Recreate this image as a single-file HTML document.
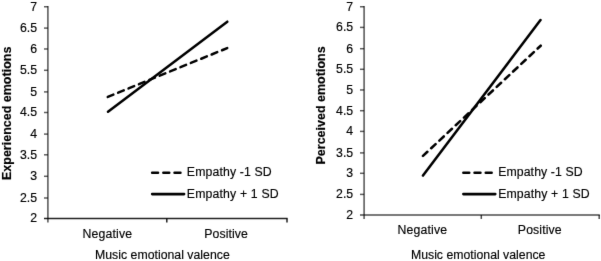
<!DOCTYPE html>
<html><head><meta charset="utf-8"><style>
html,body{margin:0;padding:0;background:#fff;}
svg{display:block;}
.t{font-family:"Liberation Sans",sans-serif;font-size:12.3px;fill:#000;stroke:#000;stroke-width:0.15px;}
.tb{font-family:"Liberation Sans",sans-serif;font-size:12.5px;font-weight:bold;fill:#000;stroke:#000;stroke-width:0.15px;}
</style></head><body>
<svg width="601" height="261" viewBox="0 0 601 261">
<defs><filter id="bl" color-interpolation-filters="sRGB" x="0" y="0" width="601" height="261" filterUnits="userSpaceOnUse"><feConvolveMatrix order="3" kernelMatrix="0.00524 0.06192 0.00524 0.06192 0.73137 0.06192 0.00524 0.06192 0.00524" preserveAlpha="true" edgeMode="duplicate"/></filter></defs>
<rect width="601" height="261" fill="#fff"/>
<g filter="url(#bl)">
<rect width="601" height="261" fill="#fff"/>
<line x1="44.0" y1="6.75" x2="47.9" y2="6.75" stroke="#000" stroke-opacity="0.64" stroke-width="1.5"/>
<text transform="translate(37.00 10.65) scale(1 1.06)" text-anchor="end" class="t">7</text>
<line x1="44.0" y1="28.10" x2="47.9" y2="28.10" stroke="#000" stroke-opacity="0.64" stroke-width="1.5"/>
<text transform="translate(37.00 32.00) scale(1 1.06)" text-anchor="end" class="t">6.5</text>
<line x1="44.0" y1="48.97" x2="47.9" y2="48.97" stroke="#000" stroke-opacity="0.64" stroke-width="1.5"/>
<text transform="translate(37.00 52.87) scale(1 1.06)" text-anchor="end" class="t">6</text>
<line x1="44.0" y1="70.30" x2="47.9" y2="70.30" stroke="#000" stroke-opacity="0.64" stroke-width="1.5"/>
<text transform="translate(37.00 74.20) scale(1 1.06)" text-anchor="end" class="t">5.5</text>
<line x1="44.0" y1="91.90" x2="47.9" y2="91.90" stroke="#000" stroke-opacity="0.64" stroke-width="1.5"/>
<text transform="translate(37.00 95.80) scale(1 1.06)" text-anchor="end" class="t">5</text>
<line x1="44.0" y1="112.50" x2="47.9" y2="112.50" stroke="#000" stroke-opacity="0.64" stroke-width="1.5"/>
<text transform="translate(37.00 116.40) scale(1 1.06)" text-anchor="end" class="t">4.5</text>
<line x1="44.0" y1="134.10" x2="47.9" y2="134.10" stroke="#000" stroke-opacity="0.64" stroke-width="1.5"/>
<text transform="translate(37.00 138.00) scale(1 1.06)" text-anchor="end" class="t">4</text>
<line x1="44.0" y1="154.80" x2="47.9" y2="154.80" stroke="#000" stroke-opacity="0.64" stroke-width="1.5"/>
<text transform="translate(37.00 158.70) scale(1 1.06)" text-anchor="end" class="t">3.5</text>
<line x1="44.0" y1="176.30" x2="47.9" y2="176.30" stroke="#000" stroke-opacity="0.64" stroke-width="1.5"/>
<text transform="translate(37.00 180.20) scale(1 1.06)" text-anchor="end" class="t">3</text>
<line x1="44.0" y1="198.00" x2="47.9" y2="198.00" stroke="#000" stroke-opacity="0.64" stroke-width="1.5"/>
<text transform="translate(37.00 201.90) scale(1 1.06)" text-anchor="end" class="t">2.5</text>
<text transform="translate(37.00 222.40) scale(1 1.06)" text-anchor="end" class="t">2</text>
<line x1="47.9" y1="6.0" x2="47.9" y2="222.5" stroke="#000" stroke-opacity="0.64" stroke-width="1.6"/>
<line x1="44.0" y1="218.5" x2="287.6" y2="218.5" stroke="#000" stroke-opacity="0.87" stroke-width="1.5"/>
<line x1="166.8" y1="218.5" x2="166.8" y2="222.5" stroke="#000" stroke-opacity="0.87" stroke-width="1.5"/>
<line x1="287.0" y1="218.5" x2="287.0" y2="222.5" stroke="#000" stroke-opacity="0.87" stroke-width="1.5"/>
<line x1="108.0" y1="111.65" x2="227.3" y2="21.7" stroke="#000" stroke-width="2.55" stroke-linecap="round"/>
<line x1="107.8" y1="96.9" x2="227.2" y2="48.1" stroke="#000" stroke-width="2.55" stroke-linecap="round" stroke-dasharray="6 5.22"/>
<text transform="translate(107.30 237.60) scale(1 1.06)" text-anchor="middle" textLength="49.44" lengthAdjust="spacing" class="t">Negative</text>
<text transform="translate(226.10 237.60) scale(1 1.06)" text-anchor="middle" textLength="43.60" lengthAdjust="spacing" class="t">Positive</text>
<text transform="translate(95.04 259.30) scale(1 1.06)" textLength="134.70" lengthAdjust="spacing" class="t">Music emotional valence</text>
<text x="10.7" y="180.0" transform="rotate(-90 10.7 180.0)" class="tb">Experienced emotions</text>
<line x1="152.15" y1="172.8" x2="180.45" y2="172.8" stroke="#000" stroke-width="2.55" stroke-linecap="round" stroke-dasharray="5.9 5.3"/>
<line x1="152.15" y1="194.1" x2="184.10" y2="194.1" stroke="#000" stroke-width="2.55" stroke-linecap="round"/>
<text transform="translate(186.85 175.60) scale(1 1.06)" textLength="84.77" lengthAdjust="spacing" class="t">Empathy -1 SD</text>
<text transform="translate(186.85 197.60) scale(1 1.06)" textLength="91.80" lengthAdjust="spacing" class="t">Empathy + 1 SD</text>
<line x1="360.0" y1="6.74" x2="364.1" y2="6.74" stroke="#000" stroke-opacity="0.64" stroke-width="1.5"/>
<text transform="translate(353.20 10.64) scale(1 1.06)" text-anchor="end" class="t">7</text>
<line x1="360.0" y1="27.40" x2="364.1" y2="27.40" stroke="#000" stroke-opacity="0.64" stroke-width="1.5"/>
<text transform="translate(353.20 31.30) scale(1 1.06)" text-anchor="end" class="t">6.5</text>
<line x1="360.0" y1="48.70" x2="364.1" y2="48.70" stroke="#000" stroke-opacity="0.64" stroke-width="1.5"/>
<text transform="translate(353.20 52.60) scale(1 1.06)" text-anchor="end" class="t">6</text>
<line x1="360.0" y1="69.30" x2="364.1" y2="69.30" stroke="#000" stroke-opacity="0.64" stroke-width="1.5"/>
<text transform="translate(353.20 73.20) scale(1 1.06)" text-anchor="end" class="t">5.5</text>
<line x1="360.0" y1="89.96" x2="364.1" y2="89.96" stroke="#000" stroke-opacity="0.64" stroke-width="1.5"/>
<text transform="translate(353.20 93.86) scale(1 1.06)" text-anchor="end" class="t">5</text>
<line x1="360.0" y1="110.70" x2="364.1" y2="110.70" stroke="#000" stroke-opacity="0.64" stroke-width="1.5"/>
<text transform="translate(353.20 114.60) scale(1 1.06)" text-anchor="end" class="t">4.5</text>
<line x1="360.0" y1="131.40" x2="364.1" y2="131.40" stroke="#000" stroke-opacity="0.64" stroke-width="1.5"/>
<text transform="translate(353.20 135.30) scale(1 1.06)" text-anchor="end" class="t">4</text>
<line x1="360.0" y1="152.90" x2="364.1" y2="152.90" stroke="#000" stroke-opacity="0.64" stroke-width="1.5"/>
<text transform="translate(353.20 156.80) scale(1 1.06)" text-anchor="end" class="t">3.5</text>
<line x1="360.0" y1="173.30" x2="364.1" y2="173.30" stroke="#000" stroke-opacity="0.64" stroke-width="1.5"/>
<text transform="translate(353.20 177.20) scale(1 1.06)" text-anchor="end" class="t">3</text>
<line x1="360.0" y1="194.40" x2="364.1" y2="194.40" stroke="#000" stroke-opacity="0.64" stroke-width="1.5"/>
<text transform="translate(353.20 198.30) scale(1 1.06)" text-anchor="end" class="t">2.5</text>
<text transform="translate(353.20 218.85) scale(1 1.06)" text-anchor="end" class="t">2</text>
<line x1="364.1" y1="5.99" x2="364.1" y2="218.95" stroke="#000" stroke-opacity="0.64" stroke-width="1.6"/>
<line x1="360.0" y1="214.95" x2="599.8000000000001" y2="214.95" stroke="#000" stroke-opacity="0.71" stroke-width="1.5"/>
<line x1="481.3" y1="214.95" x2="481.3" y2="218.95" stroke="#000" stroke-opacity="0.71" stroke-width="1.5"/>
<line x1="599.2" y1="214.95" x2="599.2" y2="218.95" stroke="#000" stroke-opacity="0.71" stroke-width="1.5"/>
<line x1="423.0" y1="175.6" x2="540.5" y2="20.0" stroke="#000" stroke-width="2.55" stroke-linecap="round"/>
<line x1="423.0" y1="155.9" x2="540.7" y2="45.7" stroke="#000" stroke-width="2.55" stroke-linecap="round" stroke-dasharray="6 5.22"/>
<text transform="translate(422.30 233.60) scale(1 1.06)" text-anchor="middle" textLength="49.44" lengthAdjust="spacing" class="t">Negative</text>
<text transform="translate(539.70 233.60) scale(1 1.06)" text-anchor="middle" textLength="43.77" lengthAdjust="spacing" class="t">Positive</text>
<text transform="translate(410.95 258.60) scale(1 1.06)" textLength="134.50" lengthAdjust="spacing" class="t">Music emotional valence</text>
<text x="325.0" y="164.5" transform="rotate(-90 325.0 164.5)" class="tb">Perceived emotions</text>
<line x1="463.35" y1="172.8" x2="491.65" y2="172.8" stroke="#000" stroke-width="2.55" stroke-linecap="round" stroke-dasharray="5.9 5.3"/>
<line x1="463.35" y1="194.1" x2="495.30" y2="194.1" stroke="#000" stroke-width="2.55" stroke-linecap="round"/>
<text transform="translate(498.15 175.60) scale(1 1.06)" textLength="84.47" lengthAdjust="spacing" class="t">Empathy -1 SD</text>
<text transform="translate(498.15 197.60) scale(1 1.06)" textLength="91.50" lengthAdjust="spacing" class="t">Empathy + 1 SD</text>
</g>
</svg>
</body></html>
